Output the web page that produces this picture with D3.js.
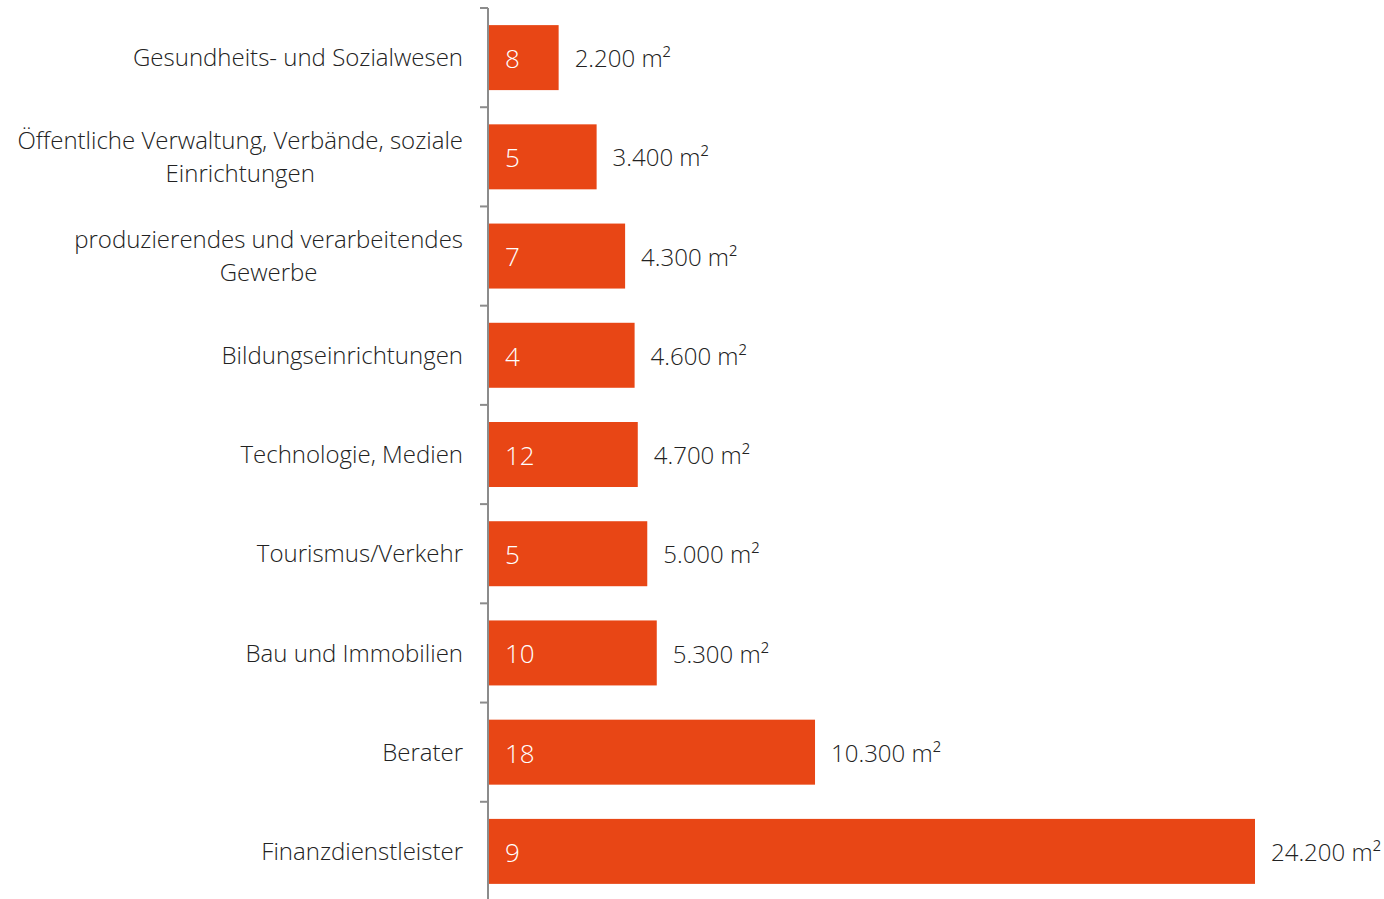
<!DOCTYPE html>
<html><head><meta charset="utf-8">
<script src="https://cdn.jsdelivr.net/npm/d3@7"></script>
<style>
html,body{margin:0;padding:0;background:#fff;}
text{font-family:"Open Sans",sans-serif;font-weight:300;}
</style></head>
<body>
<svg id="chart" width="1384" height="899"></svg>
<script>
const categories = [
  ["Gesundheits- und Sozialwesen"],
  ["Öffentliche Verwaltung, Verbände, soziale", "Einrichtungen"],
  ["produzierendes und verarbeitendes", "Gewerbe"],
  ["Bildungseinrichtungen"],
  ["Technologie, Medien"],
  ["Tourismus/Verkehr"],
  ["Bau und Immobilien"],
  ["Berater"],
  ["Finanzdienstleister"]
];
const areas = [2200, 3400, 4300, 4600, 4700, 5000, 5300, 10300, 24200];
const counts = [8, 5, 7, 4, 12, 5, 10, 18, 9];
const areaLabels = ["2.200 m²","3.400 m²","4.300 m²","4.600 m²","4.700 m²","5.000 m²","5.300 m²","10.300 m²","24.200 m²"];

const svg = d3.select("#chart");
const idx = d3.range(categories.length);
const x = d3.scaleLinear().domain([0, 24200]).range([489, 1255]);
const y = d3.scaleBand().domain(idx).range([8, 901]).paddingInner(0.345).paddingOuter(0.1725);
const step = y.step();

svg.selectAll("rect.bar").data(idx).join("rect")
  .attr("class","bar")
  .attr("x", x(0))
  .attr("y", i => y(i))
  .attr("width", i => x(areas[i]) - x(0))
  .attr("height", y.bandwidth())
  .attr("fill", "#E84615");

// axis line and ticks
svg.append("line").attr("x1",488).attr("x2",488).attr("y1",8).attr("y2",901)
  .attr("stroke","#8c8c8c").attr("stroke-width",2);
svg.selectAll("line.tick").data(d3.range(categories.length+1)).join("line")
  .attr("class","tick")
  .attr("x1",480).attr("x2",488)
  .attr("y1", i => 8 + i*step).attr("y2", i => 8 + i*step)
  .attr("stroke","#8c8c8c").attr("stroke-width",2);

// count labels inside bars
svg.selectAll("text.count").data(idx).join("text")
  .attr("class","count")
  .attr("x", x(0) + 16)
  .attr("y", i => y(i) + y.bandwidth()/2 + 1)
  .attr("dy","0.36em")
  .attr("fill","#fff")
  .attr("font-size", 26)
  .text(i => counts[i]);

// area labels
svg.selectAll("text.area").data(idx).join("text")
  .attr("class","area")
  .attr("x", i => x(areas[i]) + 16)
  .attr("y", i => y(i) + y.bandwidth()/2 + 1)
  .attr("dy","0.36em")
  .attr("fill","#222")
  .attr("font-size", 24)
  .text(i => areaLabels[i]);

// category labels
const lh = 33;
const cat = svg.selectAll("text.cat").data(idx).join("text")
  .attr("class","cat")
  .attr("text-anchor","end")
  .attr("fill","#222")
  .attr("font-size", 24);
cat.each(function(i){
  const lines = categories[i];
  const cx = y(i) + y.bandwidth()/2;
  const start = cx - (lines.length-1)*lh/2;
  lines.forEach((l,k) => {
    d3.select(this).append("tspan")
      .attr("text-anchor", lines.length>1 && k>0 ? "middle" : "end")
      .attr("x", lines.length>1 && k>0 ? null : 463)
      .attr("y", start + k*lh)
      .attr("dy","0.36em")
      .text(l);
  });
});
// center second lines under first lines
cat.each(function(i){
  const lines = categories[i];
  if (lines.length > 1) {
    const t = d3.select(this).selectAll("tspan").nodes();
    const w = t[0].getComputedTextLength();
    const center = 463 - w/2;
    t.slice(1).forEach(n => d3.select(n).attr("x", center));
  }
});
</script>
</body></html>
